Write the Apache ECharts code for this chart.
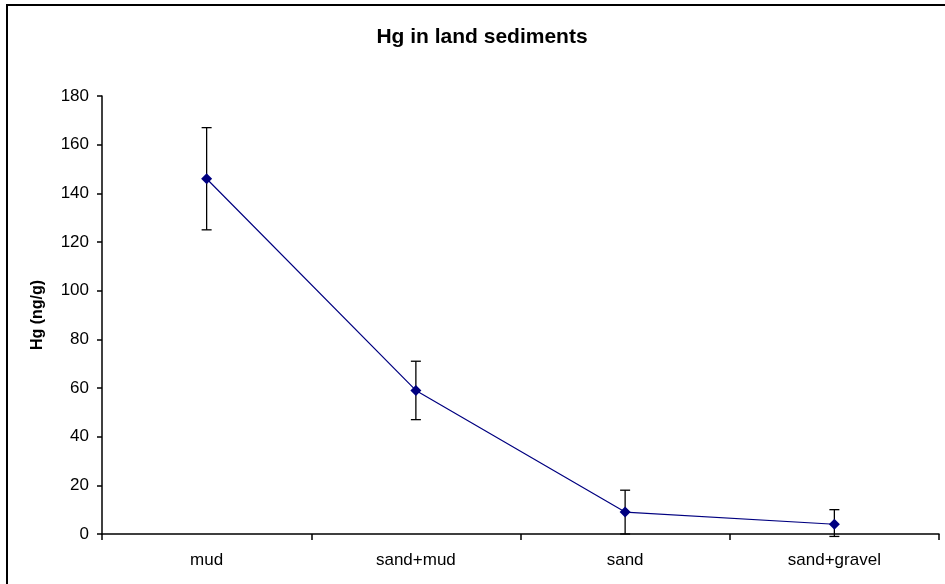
<!DOCTYPE html>
<html>
<head>
<meta charset="utf-8">
<script src="https://cdn.jsdelivr.net/npm/echarts@6/dist/echarts.min.js"></script>
<style>
html,body{margin:0;padding:0;background:#fff;}
#chart{width:945px;height:584px;}
</style>
</head>
<body>
<div id="chart"></div>
<script>
const categories = ['mud', 'sand+mud', 'sand', 'sand+gravel'];
const hgValues = [146, 59, 9, 4];
const errHigh = [167, 71, 18, 10];
const errLow = [125, 47, 0, -1];
const yTicks = [0, 20, 40, 60, 80, 100, 120, 140, 160, 180];

const font = 'Arial, "Liberation Sans", sans-serif';
const chart = echarts.init(document.getElementById('chart'));

const errData = categories.map((c, i) => [i, errLow[i], errHigh[i]]);

chart.setOption({
  backgroundColor: '#fff',
  animation: false,
  title: {
    text: 'Hg in land sediments',
    left: 477, top: 22, textAlign: 'center',
    textStyle: { fontFamily: font, fontSize: 21, fontWeight: 'bold', color: '#000' }
  },
  graphic: [{
    type: 'rect', silent: true,
    shape: { x: 7, y: 5, width: 2000, height: 2000 },
    style: { fill: 'none', stroke: '#000', lineWidth: 2 }
  }],
  grid: { left: 102, right: 6, top: 96, bottom: 50, containLabel: false },
  xAxis: {
    type: 'category',
    data: categories,
    boundaryGap: true,
    axisLine: { lineStyle: { color: '#000', width: 1.5 } },
    axisTick: { show: true, alignWithLabel: false, length: 6, lineStyle: { color: '#000', width: 1.5 } },
    axisLabel: { color: '#000', fontFamily: font, fontSize: 17, margin: 18 },
    splitLine: { show: false }
  },
  yAxis: {
    type: 'value',
    min: yTicks[0], max: yTicks[yTicks.length - 1], interval: 20,
    name: 'Hg (ng/g)',
    nameLocation: 'middle',
    nameGap: 56,
    nameRotate: 90,
    nameTextStyle: { color: '#000', fontFamily: font, fontSize: 16, fontWeight: 'bold' },
    axisLine: { show: true, lineStyle: { color: '#000', width: 1.5 } },
    axisTick: { show: true, inside: false, length: 5, lineStyle: { color: '#000', width: 1.5 } },
    axisLabel: { color: '#000', fontFamily: font, fontSize: 17, margin: 13 },
    splitLine: { show: false }
  },
  series: [
    {
      type: 'custom',
      data: errData,
      z: 1,
      clip: false,
      renderItem: function (params, api) {
        const x = api.value(0);
        const lo = api.coord([x, api.value(1)]);
        const hi = api.coord([x, api.value(2)]);
        const hw = 5;
        const st = { stroke: '#000', lineWidth: 1.3 };
        return {
          type: 'group',
          children: [
            { type: 'line', shape: { x1: hi[0], y1: hi[1], x2: lo[0], y2: lo[1] }, style: st },
            { type: 'line', shape: { x1: hi[0] - hw, y1: hi[1], x2: hi[0] + hw, y2: hi[1] }, style: st },
            { type: 'line', shape: { x1: lo[0] - hw, y1: lo[1], x2: lo[0] + hw, y2: lo[1] }, style: st }
          ]
        };
      }
    },
    {
      type: 'line',
      data: hgValues,
      z: 2,
      symbol: 'diamond',
      symbolSize: 11,
      lineStyle: { color: '#000080', width: 1.2 },
      itemStyle: { color: '#000080' }
    }
  ]
});
</script>
</body>
</html>
